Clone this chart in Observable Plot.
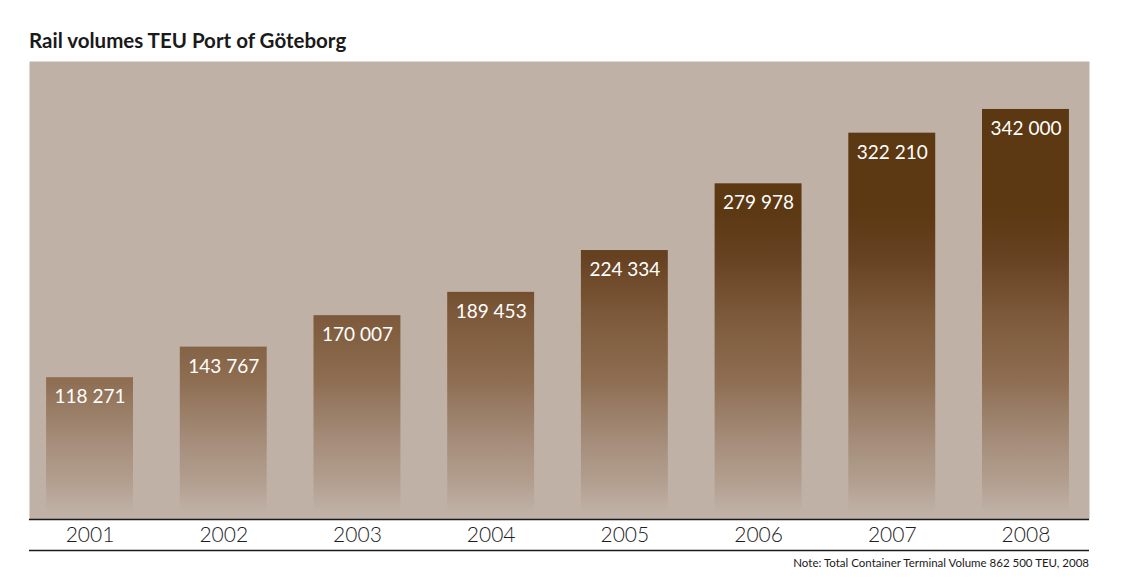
<!DOCTYPE html>
<html>
<head>
<meta charset="utf-8">
<script src="https://cdn.jsdelivr.net/npm/d3@7"></script>
<script src="https://cdn.jsdelivr.net/npm/@observablehq/plot@0.6"></script>
<style>
  html, body { margin: 0; padding: 0; background: #ffffff; }
  #wrap { position: relative; width: 1125px; height: 586px; font-family: Lato, "DejaVu Sans", sans-serif; }
  #title { position: absolute; left: 29px; top: 28px; font-size: 20.5px; font-weight: 700; color: #1a1a1a; white-space: nowrap; }
  #chart { position: absolute; left: 0; top: 61px; }
  #note { position: absolute; right: 36px; top: 556px; font-size: 11.5px; color: #1a1a1a; white-space: nowrap; }
</style>
</head>
<body>
<div id="wrap">
  <div id="title">Rail volumes TEU Port of Göteborg</div>
  <div id="chart"></div>
  <div id="note">Note: Total Container Terminal Volume 862 500 TEU, 2008</div>
</div>
<script>
const years = ["2001", "2002", "2003", "2004", "2005", "2006", "2007", "2008"];
const volumes = [118271, 143767, 170007, 189453, 224334, 279978, 322210, 342000];

const data = years.map((year, i) => ({year, value: volumes[i]}));
const fmt = d3.formatLocale({decimal: ",", thousands: " ", grouping: [3], currency: ["", ""]}).format(",d");

const W = 1125, H = 489, mL = 29, mR = 36, mT = 0, mB = 31;

const svg = Plot.plot({
  width: W,
  height: H,
  marginLeft: mL,
  marginRight: mR,
  marginTop: mT,
  marginBottom: mB,
  style: {fontFamily: "Lato, 'DejaVu Sans', sans-serif", background: "transparent", overflow: "visible"},
  x: {type: "band", domain: years, paddingInner: 0.35, paddingOuter: 0.139, align: 0.46, round: false, axis: null},
  y: {domain: [0, 382000], axis: null},
  marks: [
    Plot.frame({fill: "#bfb1a5", stroke: "none"}),
    Plot.barY(data, {x: "year", y: "value", fill: "url(#railGrad)"}),
    Plot.text(data, {x: "year", y: "value", text: d => fmt(d.value), fill: "#ffffff", fontSize: 19, dy: 19.5, lineAnchor: "middle"}),
    Plot.ruleY([0], {stroke: "#1a1a1a", strokeWidth: 1.6}),
    Plot.ruleY([0], {stroke: "#1a1a1a", strokeWidth: 1.3, dy: 31}),
    Plot.text(data, {x: "year", y: 0, text: "year", fill: "#1e1e1e", fontSize: 21, fontWeight: 300, dy: 15.5, lineAnchor: "middle"})
  ]
});

// gradient running over the whole plot height (user space), dark at the top to the panel colour at the baseline
const ns = "http://www.w3.org/2000/svg";
const defs = document.createElementNS(ns, "defs");
const grad = document.createElementNS(ns, "linearGradient");
grad.setAttribute("id", "railGrad");
grad.setAttribute("gradientUnits", "userSpaceOnUse");
grad.setAttribute("x1", "0"); grad.setAttribute("x2", "0");
grad.setAttribute("y1", String(mT)); grad.setAttribute("y2", String(H - mB));
const stops = [
  [0.00, "#5b3712"],
  [0.33, "#5c3813"],
  [0.43, "#674222"],
  [0.56, "#7d5a3b"],
  [0.69, "#8d6c50"],
  [0.82, "#a38b77"],
  [0.92, "#b39f90"],
  [0.985, "#bfb1a5"],
  [1.00, "#bfb1a5"]
];
for (const [o, c] of stops) {
  const s = document.createElementNS(ns, "stop");
  s.setAttribute("offset", String(o));
  s.setAttribute("stop-color", c);
  grad.appendChild(s);
}
defs.appendChild(grad);
svg.insertBefore(defs, svg.firstChild);

document.getElementById("chart").appendChild(svg);
</script>
</body>
</html>
